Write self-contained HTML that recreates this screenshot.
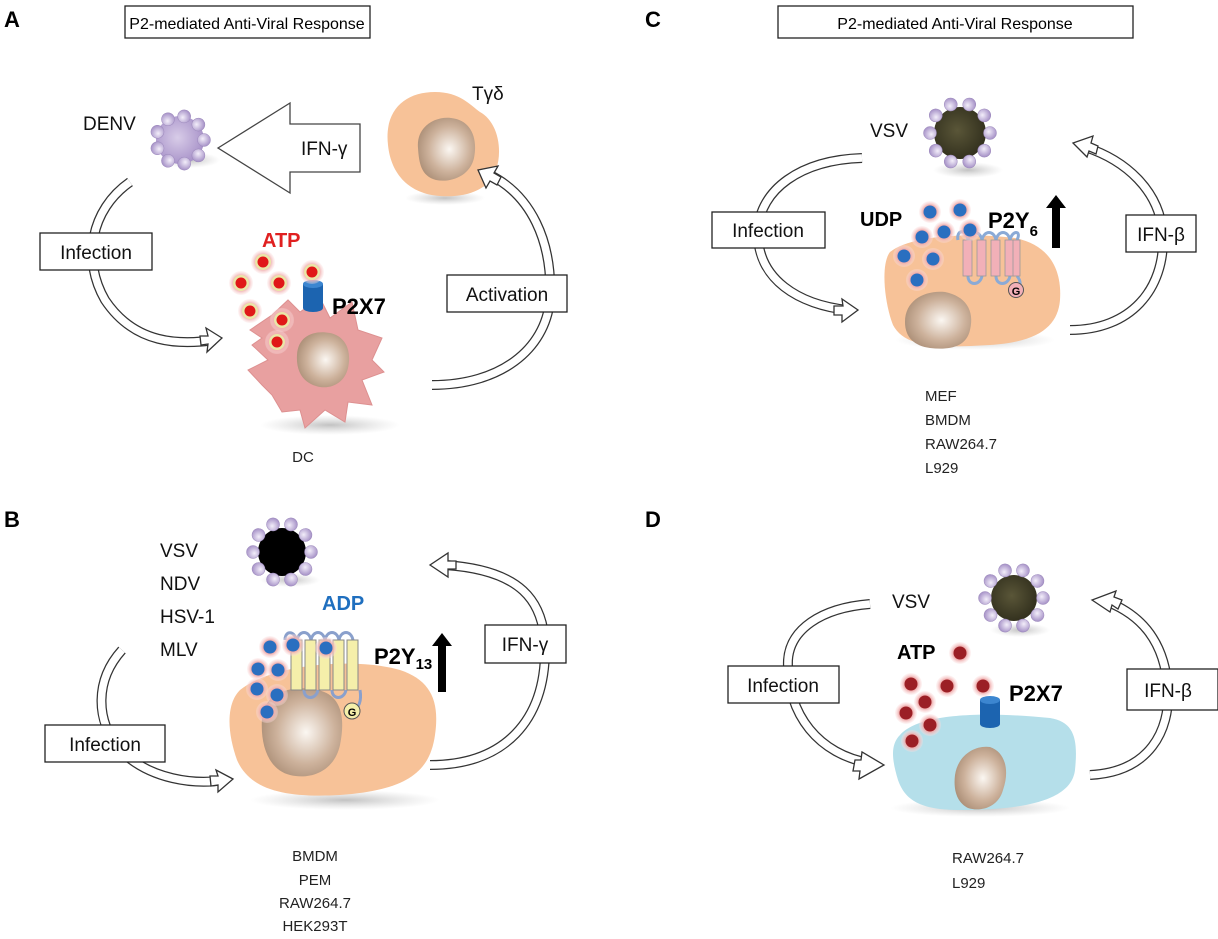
<!DOCTYPE html>
<html><head><meta charset="utf-8"><style>
html,body{margin:0;padding:0;background:#fff}
svg{display:block}
text{font-family:"Liberation Sans","DejaVu Sans",sans-serif}
.bx{fill:#fff;stroke:#222;stroke-width:1.3}
.lb{font-size:19px;fill:#111}
.sm{font-size:15px;fill:#222}
.arcO{fill:none;stroke:#333;stroke-width:10}
.arcI{fill:none;stroke:#fff;stroke-width:7.5}
.hd{fill:#fff;stroke:#333;stroke-width:1.3;stroke-linejoin:miter}
</style></head><body>
<svg width="1218" height="939" viewBox="0 0 1218 939" xmlns="http://www.w3.org/2000/svg">
<defs>
<radialGradient id="nuc" cx="0.55" cy="0.5" r="0.6"><stop offset="0" stop-color="#fbf7f2"/><stop offset="0.6" stop-color="#cdb29c"/><stop offset="1" stop-color="#a98c74"/></radialGradient>
<radialGradient id="bead" cx="0.4" cy="0.4" r="0.6"><stop offset="0" stop-color="#f3eefa"/><stop offset="1" stop-color="#a995c9"/></radialGradient>
<radialGradient id="vcore" cx="0.45" cy="0.45" r="0.6"><stop offset="0" stop-color="#d8cce8"/><stop offset="1" stop-color="#a58fc7"/></radialGradient>
<radialGradient id="olive" cx="0.45" cy="0.45" r="0.6"><stop offset="0" stop-color="#5a5638"/><stop offset="1" stop-color="#302e1c"/></radialGradient>
<radialGradient id="glowR" cx="0.5" cy="0.5" r="0.5"><stop offset="0" stop-color="#e89a9a"/><stop offset="0.6" stop-color="#eea8a8"/><stop offset="1" stop-color="#fbe0e0" stop-opacity="0.3"/></radialGradient>
<radialGradient id="shadow" r="0.5"><stop offset="0" stop-color="#999" stop-opacity="0.6"/><stop offset="1" stop-color="#bbb" stop-opacity="0"/></radialGradient>
<g id="b"><circle r="6.5" fill="url(#bead)" stroke="#9b88bb" stroke-width="0.5"/></g>
<g id="atpA"><circle r="12" fill="url(#glowR)"/><circle r="8" fill="#eae6a8"/><circle r="5.5" fill="#e01818"/></g>
<g id="dotB"><circle r="11" fill="url(#glowR)"/><circle r="6.5" fill="#2a6fc0"/></g>
<g id="dotD"><circle r="11" fill="url(#glowR)"/><circle r="6.5" fill="#9b1f25"/></g>
<g id="cyl"><rect x="-10" y="-12" width="20" height="24" fill="#1c64b0"/><ellipse cx="0" cy="12" rx="10" ry="4" fill="#1c64b0"/><ellipse cx="0" cy="-12" rx="10" ry="4" fill="#3c86d0"/></g>
</defs>

<!-- ================= PANEL A ================= -->
<text x="4" y="27" font-size="22" font-weight="bold">A</text>
<rect class="bx" x="125" y="6" width="245" height="32"/>
<text x="247" y="29" text-anchor="middle" font-size="16">P2-mediated Anti-Viral Response</text>
<text x="83" y="130" class="lb">DENV</text>
<ellipse cx="190" cy="160" rx="30" ry="8" fill="url(#shadow)"/>
<g transform="translate(180,140)"><circle r="24" fill="url(#vcore)"/>
<use href="#b" transform="rotate(0) translate(24,0)"/><use href="#b" transform="rotate(40) translate(24,0)"/><use href="#b" transform="rotate(80) translate(24,0)"/><use href="#b" transform="rotate(120) translate(24,0)"/><use href="#b" transform="rotate(160) translate(24,0)"/><use href="#b" transform="rotate(200) translate(24,0)"/><use href="#b" transform="rotate(240) translate(24,0)"/><use href="#b" transform="rotate(280) translate(24,0)"/><use href="#b" transform="rotate(320) translate(24,0)"/></g>
<polygon points="218,148 290,103 290,124 360,124 360,172 290,172 290,193" fill="#fff" stroke="#444" stroke-width="1.3"/>
<text x="301" y="155" class="lb">IFN-γ</text>
<ellipse cx="445" cy="198" rx="40" ry="7" fill="url(#shadow)"/>
<path d="M388,145 C384,110 405,92 435,92 C460,92 470,105 480,112 C498,122 503,150 496,170 C490,190 465,198 440,196 C410,194 391,175 388,145Z" fill="#f7c298"/>
<path d="M418,148 C416,126 436,116 451,118 C471,120 478,138 474,158 C470,176 451,183 436,180 C421,176 419,163 418,148Z" fill="url(#nuc)"/>
<text x="472" y="100" class="lb">Tγδ</text>
<path class="arcO" d="M130,182 C90,210 82,260 105,300 C135,345 180,345 215,340"/>
<path class="arcI" d="M130,182 C90,210 82,260 105,300 C135,345 180,345 215,340"/>
<polygon class="hd" points="222,338 206,328 208,336 200,336 201,345 208,344 207,352"/>
<rect class="bx" x="40" y="233" width="112" height="37"/>
<text x="96" y="259" text-anchor="middle" class="lb">Infection</text>
<path class="arcO" d="M432,385 C500,385 545,350 550,300 C553,240 530,195 490,175"/>
<path class="arcI" d="M432,385 C500,385 545,350 550,300 C553,240 530,195 490,175"/>
<polygon class="hd" points="478,170 486,188 490,181 497,185 501,177 494,173 498,166"/>
<rect class="bx" x="447" y="275" width="120" height="37"/>
<text x="507" y="301" text-anchor="middle" class="lb">Activation</text>
<ellipse cx="330" cy="425" rx="70" ry="10" fill="url(#shadow)"/>
<path d="M272,315 L288,300 L300,312 L320,298 L330,318 L352,302 L358,330 L382,338 L372,360 L384,372 L362,380 L372,405 L348,402 L345,422 L325,410 L305,428 L300,410 L282,412 L272,395 L262,385 L248,370 L268,360 L252,345 L262,338 L250,330 Z" fill="#e8a0a0" stroke="#dd9090" stroke-width="1"/>
<path d="M297,355 C298,335 315,330 330,333 C345,336 352,350 348,368 C344,385 328,390 316,386 C302,382 296,370 297,355Z" fill="url(#nuc)"/>
<use href="#cyl" x="313" y="296"/>
<use href="#atpA" x="263" y="262"/><use href="#atpA" x="241" y="283"/><use href="#atpA" x="279" y="283"/><use href="#atpA" x="312" y="272"/><use href="#atpA" x="250" y="311"/><use href="#atpA" x="282" y="320"/><use href="#atpA" x="277" y="342"/>
<text x="262" y="247" font-size="20" font-weight="bold" fill="#e02020">ATP</text>
<text x="332" y="314" font-size="22" font-weight="bold">P2X7</text>
<text x="303" y="462" text-anchor="middle" class="sm">DC</text>

<!-- ================= PANEL B ================= -->
<text x="4" y="527" font-size="22" font-weight="bold">B</text>
<text x="160" y="557" class="lb">VSV</text>
<text x="160" y="590" class="lb">NDV</text>
<text x="160" y="623" class="lb">HSV-1</text>
<text x="160" y="656" class="lb">MLV</text>
<ellipse cx="290" cy="580" rx="30" ry="7" fill="url(#shadow)"/>
<g transform="translate(282,552)"><circle r="24" fill="#000"/>
<use href="#b" transform="rotate(0) translate(29,0)"/><use href="#b" transform="rotate(36) translate(29,0)"/><use href="#b" transform="rotate(72) translate(29,0)"/><use href="#b" transform="rotate(108) translate(29,0)"/><use href="#b" transform="rotate(144) translate(29,0)"/><use href="#b" transform="rotate(180) translate(29,0)"/><use href="#b" transform="rotate(216) translate(29,0)"/><use href="#b" transform="rotate(252) translate(29,0)"/><use href="#b" transform="rotate(288) translate(29,0)"/><use href="#b" transform="rotate(324) translate(29,0)"/></g>
<text x="322" y="610" font-size="20" font-weight="bold" fill="#1f6fbf">ADP</text>
<path class="arcO" d="M122,650 C95,680 95,720 120,750 C150,780 195,785 225,780"/>
<path class="arcI" d="M122,650 C95,680 95,720 120,750 C150,780 195,785 225,780"/>
<polygon class="hd" points="233,779 216,770 218,776 210,776 211,786 218,785 218,792"/>
<rect class="bx" x="45" y="725" width="120" height="37"/>
<text x="105" y="751" text-anchor="middle" class="lb">Infection</text>
<path class="arcO" d="M430,765 C505,765 545,720 545,650 C545,600 520,570 445,565"/>
<path class="arcI" d="M430,765 C505,765 545,720 545,650 C545,600 520,570 445,565"/>
<polygon class="hd" points="430,565 448,577 448,569 456,569 456,561 448,561 448,553"/>
<rect class="bx" x="485" y="625" width="81" height="38"/>
<text x="525" y="651" text-anchor="middle" class="lb">IFN-γ</text>
<ellipse cx="345" cy="800" rx="95" ry="10" fill="url(#shadow)"/>
<path d="M240,690 C275,662 360,658 400,670 C430,680 440,700 435,735 C430,770 410,790 340,795 C285,798 250,790 237,760 C228,735 225,705 240,690Z" fill="#f7c298"/>
<path d="M262,718 C265,690 295,685 318,690 C340,695 346,715 340,745 C334,772 310,780 290,775 C270,770 260,748 262,718Z" fill="url(#nuc)"/>
<g stroke="#8aa0cc" stroke-width="3" fill="none">
<path d="M285,640 C285,630 295,630 297,642 M297,642 L297,640 C299,630 309,630 311,640 M311,640 C313,630 323,630 325,640 M325,640 C327,630 337,630 339,640 M339,640 C341,630 351,630 353,640"/>
<path d="M304,690 C304,700 316,700 318,690 M332,690 C332,700 344,700 346,690 M360,690 C362,702 358,708 355,708"/>
</g>
<g fill="#f5efaa" stroke="#888" stroke-width="1">
<rect x="291" y="640" width="11" height="50"/><rect x="305" y="640" width="11" height="50"/><rect x="319" y="640" width="11" height="50"/><rect x="333" y="640" width="11" height="50"/><rect x="347" y="640" width="11" height="50"/>
</g>
<circle cx="352" cy="711" r="8" fill="#f5efaa" stroke="#555"/><text x="352" y="716" text-anchor="middle" font-size="11" font-weight="bold">G</text>
<use href="#dotB" x="270" y="647"/><use href="#dotB" x="293" y="645"/><use href="#dotB" x="326" y="648"/><use href="#dotB" x="258" y="669"/><use href="#dotB" x="278" y="670"/><use href="#dotB" x="257" y="689"/><use href="#dotB" x="277" y="695"/><use href="#dotB" x="267" y="712"/>
<text x="374" y="664" font-size="22" font-weight="bold">P2Y<tspan font-size="15" dy="5">13</tspan></text>
<polygon points="438,692 446,692 446,646 452,646 442,633 432,646 438,646" fill="#000"/>
<text x="315" y="861" text-anchor="middle" class="sm">BMDM</text>
<text x="315" y="885" text-anchor="middle" class="sm">PEM</text>
<text x="315" y="908" text-anchor="middle" class="sm">RAW264.7</text>
<text x="315" y="931" text-anchor="middle" class="sm">HEK293T</text>

<!-- ================= PANEL C ================= -->
<text x="645" y="27" font-size="22" font-weight="bold">C</text>
<rect class="bx" x="778" y="6" width="355" height="32"/>
<text x="955" y="29" text-anchor="middle" font-size="16">P2-mediated Anti-Viral Response</text>
<text x="870" y="137" class="lb">VSV</text>
<ellipse cx="968" cy="170" rx="35" ry="8" fill="url(#shadow)"/>
<g transform="translate(960,133)"><circle r="26" fill="url(#olive)"/>
<use href="#b" transform="rotate(0) translate(30,0)"/><use href="#b" transform="rotate(36) translate(30,0)"/><use href="#b" transform="rotate(72) translate(30,0)"/><use href="#b" transform="rotate(108) translate(30,0)"/><use href="#b" transform="rotate(144) translate(30,0)"/><use href="#b" transform="rotate(180) translate(30,0)"/><use href="#b" transform="rotate(216) translate(30,0)"/><use href="#b" transform="rotate(252) translate(30,0)"/><use href="#b" transform="rotate(288) translate(30,0)"/><use href="#b" transform="rotate(324) translate(30,0)"/></g>
<path class="arcO" d="M862,158 C800,160 760,190 758,230 C756,280 800,305 848,310"/>
<path class="arcI" d="M862,158 C800,160 760,190 758,230 C756,280 800,305 848,310"/>
<polygon class="hd" points="858,310 842,299 843,306 834,306 834,315 842,315 842,322"/>
<rect class="bx" x="712" y="212" width="113" height="36"/>
<text x="768" y="237" text-anchor="middle" class="lb">Infection</text>
<path class="arcO" d="M1070,330 C1130,330 1165,290 1163,235 C1160,190 1125,160 1085,147"/>
<path class="arcI" d="M1070,330 C1130,330 1165,290 1163,235 C1160,190 1125,160 1085,147"/>
<polygon class="hd" points="1073,143 1087,157 1089,151 1096,154 1098,146 1091,143 1093,136"/>
<rect class="bx" x="1126" y="215" width="70" height="37"/>
<text x="1161" y="241" text-anchor="middle" class="lb">IFN-β</text>
<ellipse cx="975" cy="340" rx="80" ry="10" fill="url(#shadow)"/>
<path d="M890,252 C910,236 965,232 1015,238 C1050,245 1062,270 1060,300 C1058,325 1040,342 990,345 C940,348 905,348 893,325 C885,305 880,265 890,252Z" fill="#f7c298"/>
<path d="M905,322 C905,300 925,290 945,292 C965,296 975,310 970,330 C966,348 948,350 930,348 C915,346 905,338 905,322Z" fill="url(#nuc)"/>
<g stroke="#8aaad6" stroke-width="3" fill="none">
<path d="M958,240 C956,230 966,228 968,240 C970,230 980,230 982,240 C984,230 994,230 996,240 C998,230 1008,230 1010,240 C1012,230 1022,230 1017,240"/>
<path d="M968,276 C968,286 980,286 982,276 M996,276 C996,286 1008,286 1010,276 M1017,276 C1022,282 1020,288 1018,288"/>
</g>
<g fill="#f2b0b8" stroke="#999" stroke-width="0.8">
<rect x="963" y="240" width="9" height="36"/><rect x="977" y="240" width="9" height="36"/><rect x="991" y="240" width="9" height="36"/><rect x="1005" y="240" width="9" height="36"/><rect x="1013" y="240" width="7" height="36"/>
</g>
<circle cx="1016" cy="290" r="7.5" fill="#f2b0b8" stroke="#555"/><text x="1016" y="295" text-anchor="middle" font-size="11" font-weight="bold">G</text>
<use href="#dotB" x="960" y="210"/><use href="#dotB" x="930" y="212"/><use href="#dotB" x="922" y="237"/><use href="#dotB" x="944" y="232"/><use href="#dotB" x="970" y="230"/><use href="#dotB" x="904" y="256"/><use href="#dotB" x="933" y="259"/><use href="#dotB" x="917" y="280"/>
<text x="860" y="226" font-size="20" font-weight="bold">UDP</text>
<text x="988" y="228" font-size="22" font-weight="bold">P2Y<tspan font-size="15" dy="8">6</tspan></text>
<polygon points="1052,248 1060,248 1060,208 1066,208 1056,195 1046,208 1052,208" fill="#000"/>
<text x="925" y="401" class="sm">MEF</text>
<text x="925" y="425" class="sm">BMDM</text>
<text x="925" y="449" class="sm">RAW264.7</text>
<text x="925" y="473" class="sm">L929</text>

<!-- ================= PANEL D ================= -->
<text x="645" y="527" font-size="22" font-weight="bold">D</text>
<ellipse cx="1020" cy="630" rx="30" ry="7" fill="url(#shadow)"/>
<g transform="translate(1014,598)"><circle r="23" fill="url(#olive)"/>
<use href="#b" transform="rotate(0) translate(29,0)"/><use href="#b" transform="rotate(36) translate(29,0)"/><use href="#b" transform="rotate(72) translate(29,0)"/><use href="#b" transform="rotate(108) translate(29,0)"/><use href="#b" transform="rotate(144) translate(29,0)"/><use href="#b" transform="rotate(180) translate(29,0)"/><use href="#b" transform="rotate(216) translate(29,0)"/><use href="#b" transform="rotate(252) translate(29,0)"/><use href="#b" transform="rotate(288) translate(29,0)"/><use href="#b" transform="rotate(324) translate(29,0)"/></g>
<text x="892" y="608" class="lb">VSV</text>
<path class="arcO" d="M870,604 C820,608 790,630 788,660 C786,715 820,755 870,763"/>
<path class="arcI" d="M870,604 C820,608 790,630 788,660 C786,715 820,755 870,763"/>
<polygon class="hd" points="884,765 862,752 861,760 855,760 853,771 860,771 859,779"/>
<rect class="bx" x="728" y="666" width="111" height="37"/>
<text x="783" y="692" text-anchor="middle" class="lb">Infection</text>
<path class="arcO" d="M1090,775 C1150,772 1170,730 1168,690 C1165,640 1140,615 1108,602"/>
<path class="arcI" d="M1090,775 C1150,772 1170,730 1168,690 C1165,640 1140,615 1108,602"/>
<polygon class="hd" points="1092,600 1110,612 1112,605 1118,609 1122,600 1114,597 1116,591"/>
<rect class="bx" x="1127" y="669" width="91" height="41"/>
<text x="1168" y="697" text-anchor="middle" class="lb">IFN-β</text>
<ellipse cx="980" cy="808" rx="90" ry="9" fill="url(#shadow)"/>
<path d="M900,735 C920,712 990,712 1050,718 C1075,722 1078,740 1075,770 C1072,795 1040,810 960,810 C920,810 905,800 898,780 C892,760 890,745 900,735Z" fill="#b5dfea"/>
<path d="M955,775 C958,755 975,745 990,747 C1005,752 1010,770 1003,790 C998,808 980,812 968,808 C958,803 953,792 955,775Z" fill="url(#nuc)"/>
<use href="#cyl" x="990" y="712"/>
<use href="#dotD" x="960" y="653"/><use href="#dotD" x="911" y="684"/><use href="#dotD" x="947" y="686"/><use href="#dotD" x="983" y="686"/><use href="#dotD" x="925" y="702"/><use href="#dotD" x="906" y="713"/><use href="#dotD" x="930" y="725"/><use href="#dotD" x="912" y="741"/>
<text x="897" y="659" font-size="20" font-weight="bold">ATP</text>
<text x="1009" y="701" font-size="22" font-weight="bold">P2X7</text>
<text x="952" y="863" class="sm">RAW264.7</text>
<text x="952" y="888" class="sm">L929</text>
</svg>
</body></html>
